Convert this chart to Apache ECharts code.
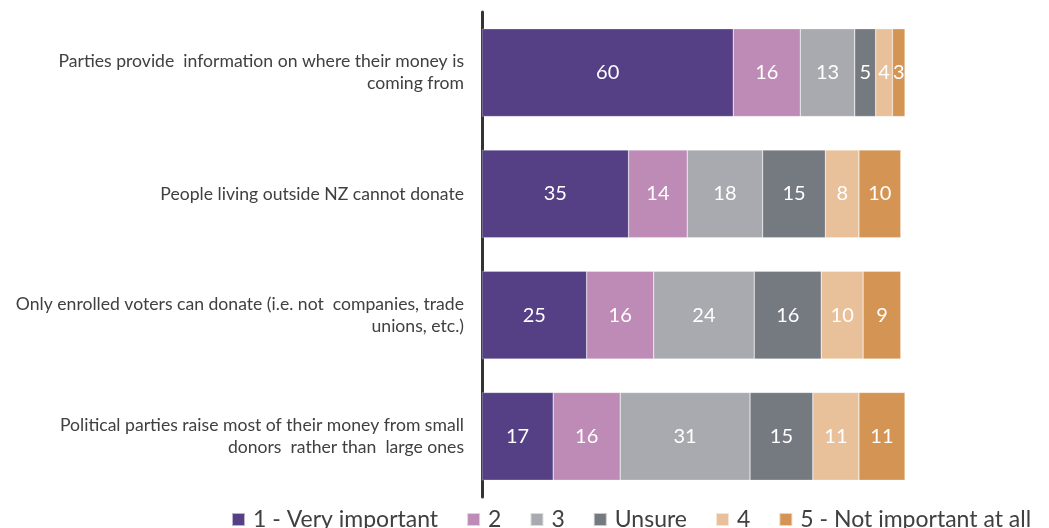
<!DOCTYPE html>
<html>
<head>
<meta charset="utf-8">
<style>
  html, body { margin: 0; padding: 0; background: #ffffff; }
  #chart { width: 1049px; height: 528px; }
</style>
<script src="https://cdn.jsdelivr.net/npm/echarts@6/dist/echarts.min.js"></script>
</head>
<body>
<div id="chart"></div>
<script>
// Statements about political party funding (top to bottom)
const categories = [
  'Parties provide  information on where their money is\ncoming from',
  'People living outside NZ cannot donate',
  'Only enrolled voters can donate (i.e. not  companies, trade\nunions, etc.)',
  'Political parties raise most of their money from small\ndonors  rather than  large ones'
];

// Importance ratings, percent of respondents, one array per response
const veryImportant = [60, 35, 25, 17];
const rating2 = [16, 14, 16, 16];
const rating3 = [13, 18, 24, 31];
const unsure = [5, 15, 16, 15];
const rating4 = [4, 8, 10, 11];
const notImportant = [3, 10, 9, 11];

const seriesNames = ['1 - Very important', '2', '3', 'Unsure', '4', '5 - Not important at all'];
const seriesValues = [veryImportant, rating2, rating3, unsure, rating4, notImportant];
const seriesColors = ['#553f85', '#be8ab6', '#a9a9b0', '#757980', '#e8c09a', '#d49554'];

const FONT = 'Lato, "Open Sans", sans-serif';

const chart = echarts.init(document.getElementById('chart'), null, { renderer: 'canvas' });

chart.setOption({
  animation: false,
  backgroundColor: '#ffffff',
  grid: { left: 482, right: 144, top: 12, bottom: 31, containLabel: false },
  legend: {
    data: seriesNames,
    left: 226,
    top: 503,
    width: 1200,
    itemWidth: 13,
    itemHeight: 13,
    itemGap: 28,
    icon: 'rect',
    textStyle: { fontFamily: FONT, fontSize: 23, color: '#404040', padding: [0, 0, 0, 3] }
  },
  xAxis: {
    type: 'value',
    min: 0,
    max: 101,
    show: false
  },
  yAxis: {
    type: 'category',
    data: categories,
    inverse: true,
    axisLine: { show: true, lineStyle: { color: '#333333', width: 3 } },
    axisTick: { show: false },
    splitLine: { show: false },
    axisLabel: {
      fontFamily: FONT,
      fontSize: 17.6,
      color: '#404040',
      align: 'right',
      margin: 18,
      lineHeight: 22
    }
  },
  series: seriesNames.map((name, i) => ({
    name: name,
    type: 'bar',
    stack: 'total',
    barWidth: '72.5%',
    data: seriesValues[i],
    itemStyle: { color: seriesColors[i], borderColor: 'rgba(255,255,255,0.6)', borderWidth: 0.5 },
    label: {
      show: true,
      position: 'inside',
      color: '#ffffff',
      fontFamily: FONT,
      fontSize: 20
    }
  }))
});
</script>
</body>
</html>
